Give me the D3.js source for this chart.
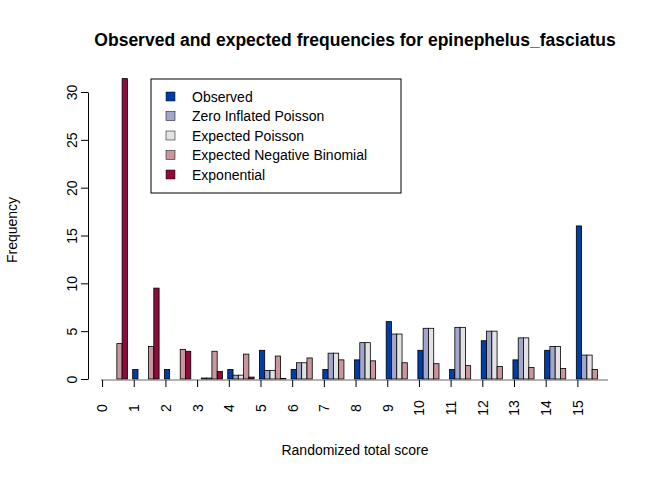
<!DOCTYPE html><html><head><script src="https://cdn.jsdelivr.net/npm/d3@7"></script>
<style>body{margin:0;background:#fff}text{font-family:"Liberation Sans",Arial,sans-serif}</style></head><body>
<svg id="c" width="672" height="480"></svg>
<script>
const scores=[0,1,2,3,4,5,6,7,8,9,10,11,12,13,14,15];
const seriesNames=["Observed","Zero Inflated Poisson","Expected Poisson","Expected Negative Binomial","Exponential"];
const colors=["#003DA5","#A3A6CB","#E2E2E2","#C8969C","#8C0C3C"];
const observed=[0,1,1,0,1,3,1,1,2,6,3,1,4,2,3,16];
const zip=[0,0,0,0.1,0.4,0.9,1.7,2.7,3.8,4.7,5.3,5.4,5.0,4.3,3.4,2.5];
const poisson=[0,0,0,0.1,0.4,0.9,1.7,2.7,3.8,4.7,5.3,5.4,5.0,4.3,3.4,2.5];
const negbin=[3.7,3.4,3.1,2.9,2.6,2.4,2.2,2.0,1.9,1.7,1.6,1.4,1.3,1.2,1.1,1.0];
const expo=[31.4,9.5,2.9,0.8,0.2,0.05,0,0,0,0,0,0,0,0,0,0];
const yTicks=[0,5,10,15,20,25,30];
const series=[observed,zip,poisson,negbin,expo];
const svg=d3.select("#c");
const x=d3.scaleLinear().domain([0,96]).range([101,608]);
const y=d3.scaleLinear().domain([0,30]).range([379,92]);
scores.forEach((s,i)=>{series.forEach((arr,j)=>{
  const v=arr[i];
  svg.append("rect").attr("x",x(i*6+j)).attr("width",x(1)-x(0)).attr("y",y(v)).attr("height",y(0)-y(v))
   .attr("fill",colors[j]).attr("stroke","#000").attr("stroke-width",0.8);
});});
svg.append("line").attr("x1",x(0)).attr("x2",x(96)).attr("y1",380).attr("y2",380).attr("stroke","#666");
const ya=svg.append("g").attr("transform","translate(88,0)").call(d3.axisLeft(y).tickValues(yTicks).tickSize(7).tickSizeOuter(0));
ya.selectAll("text").attr("transform","rotate(-90,-16,0)").attr("x",-16).attr("y",0).attr("dy","0.35em").attr("text-anchor","middle").style("font-size","14px").attr("fill","#000");
const xa=svg.append("g").attr("transform","translate(0,380)").call(d3.axisBottom(x).tickValues(scores.map(s=>s*6+0.2)).tickFormat((d,i)=>scores[i]).tickSize(7).tickSizeOuter(0));
xa.select(".domain").remove();
xa.selectAll("text").attr("transform","rotate(-90)").attr("x",-28).attr("y",0).attr("dy","0.35em").attr("text-anchor","middle").style("font-size","14px").attr("fill","#000");
svg.append("text").attr("x",355).attr("y",46).attr("text-anchor","middle").style("font-size","17.5px").style("font-weight","bold").text("Observed and expected frequencies for epinephelus_fasciatus");
svg.append("text").attr("x",355).attr("y",455).attr("text-anchor","middle").style("font-size","14px").text("Randomized total score");
svg.append("text").attr("transform","translate(17,230) rotate(-90)").attr("text-anchor","middle").style("font-size","14px").text("Frequency");
const lg=svg.append("g");
lg.append("rect").attr("x",151).attr("y",79).attr("width",250).attr("height",114).attr("fill","#fff").attr("stroke","#000");
seriesNames.forEach((n,i)=>{
  lg.append("rect").attr("x",166).attr("y",92+i*19.5).attr("width",9).attr("height",9).attr("fill",colors[i]).attr("stroke","#000").attr("stroke-width",0.5);
  lg.append("text").attr("x",192).attr("y",97+i*19.5).attr("dy","0.35em").style("font-size","14px").text(n);
});
</script></body></html>
